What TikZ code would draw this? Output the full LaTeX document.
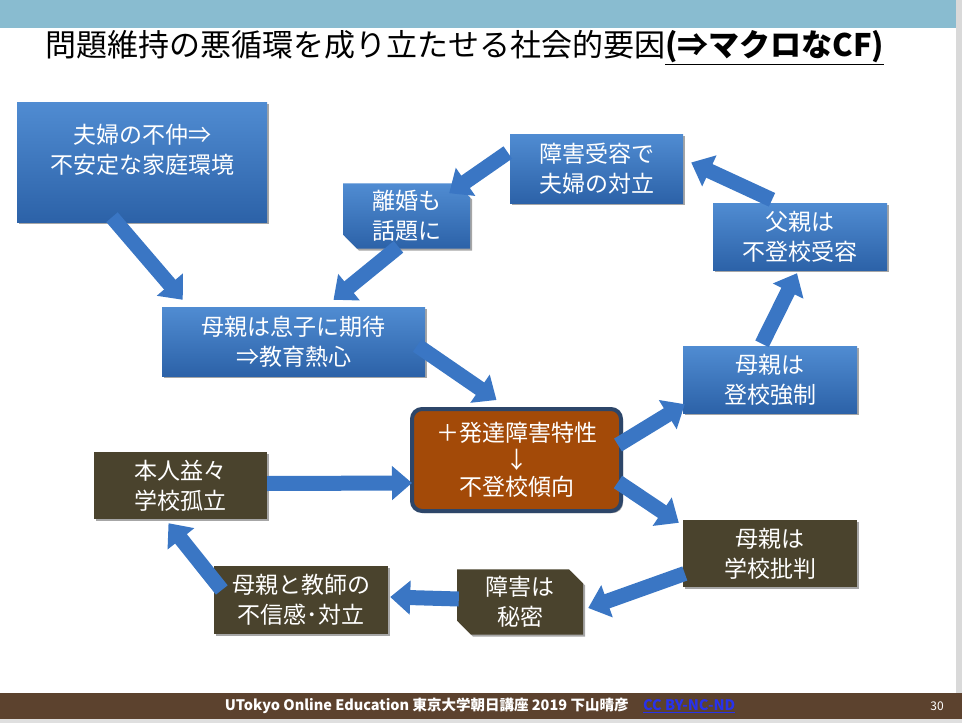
\documentclass[tikz,border=0pt]{standalone}
\usepackage{fontspec}
\setmainfont{Noto Sans CJK JP}
\usetikzlibrary{arrows.meta,shapes.misc,shadows}
\definecolor{band}{RGB}{137,188,208}
\definecolor{foot}{RGB}{92,66,46}
\definecolor{bluetop}{RGB}{80,140,210}
\definecolor{bluebot}{RGB}{44,98,168}
\definecolor{arrowblue}{RGB}{58,118,196}
\definecolor{darkbox}{RGB}{74,67,45}
\definecolor{centerfill}{RGB}{163,74,8}
\definecolor{centerborder}{RGB}{45,70,105}
\definecolor{ccblue}{RGB}{40,50,235}
\begin{document}
\begin{tikzpicture}[x=1pt,y=-1pt,
  boxshadow/.style={drop shadow={shadow xshift=2pt,shadow yshift=-2pt,opacity=0.35,fill=black}},
  boxtext/.style={text=white,font=\fontsize{23}{30}\selectfont,align=center},
  bluebox/.style={rectangle,top color=bluetop,bottom color=bluebot,draw=none,boxshadow,inner sep=0pt,boxtext},
  darkbox/.style={rectangle,fill=darkbox,draw=none,boxshadow,inner sep=0pt,boxtext},
  snip/.style={chamfered rectangle,chamfered rectangle corners={north east,south west},chamfered rectangle xsep=7pt,chamfered rectangle ysep=7pt},
  barrow/.style={draw=arrowblue,line width=15pt,-{Triangle[width=33pt,length=20pt,fill=arrowblue]}}
]
\path[use as bounding box] (0,0) rectangle (962,723);
% background bands
\fill[band] (0,0) rectangle (956,28);
\fill[foot] (0,693) rectangle (962,719);
\fill[gray!25] (0,719) rectangle (962,723);
\fill[gray!30] (956,0) rectangle (962,693);

% title
\node[anchor=west,font=\fontsize{31}{36}\selectfont,inner sep=0pt] (title) at (45,48)
  {問題維持の悪循環を成り立たせる社会的要因\textbf{\underline{(⇒マクロなCF)}}};

% boxes
\node[bluebox,minimum width=250pt,minimum height=120pt] (b1) at (142,162) {};
\node[boxtext] (t1) at (142,150) {夫婦の不仲⇒\\不安定な家庭環境};
\node[bluebox,snip,minimum width=127pt,minimum height=62pt] (b2) at (406.5,216) {離婚も\\話題に};
\node[bluebox,minimum width=173pt,minimum height=69pt] (b3) at (596.5,168.5) {障害受容で\\夫婦の対立};
\node[bluebox,minimum width=174pt,minimum height=67pt] (b4) at (800,236.5) {父親は\\不登校受容};
\node[bluebox,minimum width=263pt,minimum height=69pt] (b5) at (293.5,341.5) {母親は息子に期待\\⇒教育熱心};
\node[bluebox,minimum width=174pt,minimum height=67pt] (b6) at (770,379.5) {母親は\\登校強制};
\node[rectangle,rounded corners=10pt,fill=centerfill,draw=centerborder,line width=4pt,
      minimum width=209pt,minimum height=102pt,boxshadow,inner sep=0pt,boxtext,
      font=\fontsize{23}{27}\selectfont] (c) at (516.5,460) {＋発達障害特性\\↓\\不登校傾向};
\node[darkbox,minimum width=173pt,minimum height=67pt] (b8) at (180.5,485.5) {本人益々\\学校孤立};
\node[darkbox,minimum width=174pt,minimum height=67pt] (b9) at (770,553.5) {母親は\\学校批判};
\node[darkbox,snip,minimum width=126pt,minimum height=60pt] (b10) at (520,602) {障害は\\秘密};
\node[darkbox,minimum width=174pt,minimum height=68pt] (b11) at (301,600) {母親と教師の\\不信感･対立};

% block arrows
\draw[barrow] ([shift={(-30,-5)}]b1.south) -- ([shift={(21,-7)}]b5.north west);
\draw[barrow] ([shift={(-8,-2)}]b2.south) -- ([shift={(40,-7)}]b5.north);
\draw[barrow] ([shift={(-2,-16)}]b3.west) -- ([shift={(-14,3)}]b2.north east);
\draw[barrow] ([shift={(-28,-3)}]b4.north) -- ([shift={(8,-6)}]b3.east);
\draw[barrow] ([shift={(-8,-2)}]b6.north) -- ([shift={(-3,3)}]b4.south);
\draw[barrow] ([shift={(-5,-15)}]c.east) -- ([shift={(2,-9)}]b6.south west);
\draw[barrow] ([shift={(-8,4)}]b5.east) -- ([shift={(-20,-7)}]c.north);
\draw[barrow] ([shift={(-5,22)}]c.east) -- ([shift={(-4,3)}]b9.north west);
\draw[barrow] ([shift={(2,20)}]b9.west) -- ([shift={(5,6)}]b10.east);
\draw[barrow] ([shift={(2,-3)}]b10.west) -- ([shift={(2,-3)}]b11.east);
\draw[barrow] ([shift={(8,-10)}]b11.west) -- ([shift={(-12,4)}]b8.south);
\draw[barrow] ([shift={(0,-2)}]b8.east) -- ([shift={(2,23)}]c.west);

% footer
\node[text=white,font=\bfseries\fontsize{14.5}{16}\selectfont,inner sep=0pt] (foottext) at (480,706)
  {UTokyo Online Education 東京大学朝日講座 2019 下山晴彦\quad\textcolor{ccblue}{\underline{CC BY-NC-ND}}};
\node[text=white,font=\fontsize{12}{14}\selectfont,inner sep=0pt] (pagenum) at (937,706) {30};
\end{tikzpicture}
\end{document}
